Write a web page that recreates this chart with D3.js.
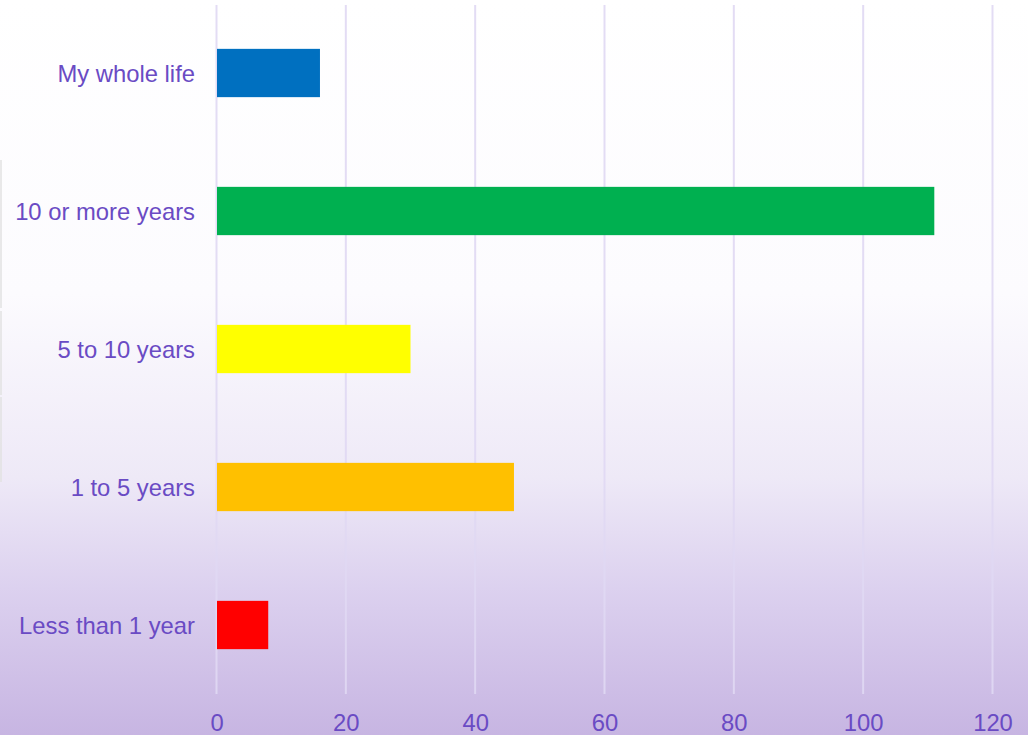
<!DOCTYPE html>
<meta charset="utf-8">
<style>
  body { margin: 0; }
  svg { display: block; font-family: "Liberation Sans", Arial, sans-serif; }
</style>
<svg width="1028" height="735"></svg>
<script src="https://d3js.org/d3.v7.min.js"></script>
<script>

var categories = ["My whole life", "10 or more years", "5 to 10 years", "1 to 5 years", "Less than 1 year"];
var values = [16, 111, 30, 46, 8];
var barColors = ["#0070c0", "#00b050", "#ffff00", "#ffc000", "#ff0000"];
var ticks = [0, 20, 40, 60, 80, 100, 120];

var svg = d3.select("svg"),
    width = +svg.attr("width"),
    height = +svg.attr("height");

var defs = svg.append("defs");
var grad = defs.append("linearGradient")
    .attr("id", "bg")
    .attr("x1", 0).attr("y1", 0).attr("x2", 0).attr("y2", 1);
grad.append("stop").attr("offset", "0%").attr("stop-color", "#ffffff");
grad.append("stop").attr("offset", "40%").attr("stop-color", "#fcfbfe");
grad.append("stop").attr("offset", "65%").attr("stop-color", "#eee9f7");
grad.append("stop").attr("offset", "80%").attr("stop-color", "#dcd1ef");
grad.append("stop").attr("offset", "100%").attr("stop-color", "#c7b5e2");

svg.append("rect")
    .attr("width", width)
    .attr("height", height)
    .attr("fill", "url(#bg)");

// faint leftover box edges on the left side
var edges = [[160, 308], [311, 395], [397, 482]];
svg.selectAll(".edge")
  .data(edges)
  .enter().append("line")
    .attr("x1", 1).attr("x2", 1)
    .attr("y1", function(d) { return d[0]; })
    .attr("y2", function(d) { return d[1]; })
    .attr("stroke", "#e2e2e2")
    .attr("stroke-width", 1.5);

var x = d3.scaleLinear()
    .domain([0, 120])
    .range([216.5, 992.5]);

var y = d3.scaleBand()
    .domain(categories)
    .range([4, 694])
    .paddingInner(0.65)
    .paddingOuter(0.325);

// gridlines
svg.selectAll(".grid")
  .data(ticks)
  .enter().append("line")
    .attr("class", "grid")
    .attr("x1", function(d) { return x(d); })
    .attr("x2", function(d) { return x(d); })
    .attr("y1", 5)
    .attr("y2", 694)
    .attr("stroke", "#e0d8f3")
    .attr("stroke-opacity", 0.9)
    .attr("stroke-width", 2);

// bars
svg.selectAll(".bar")
  .data(values)
  .enter().append("rect")
    .attr("class", "bar")
    .attr("x", x(0) + 0.5)
    .attr("y", function(d, i) { return y(categories[i]); })
    .attr("width", function(d) { return x(d) - x(0) - 0.5; })
    .attr("height", y.bandwidth())
    .attr("fill", function(d, i) { return barColors[i]; });

// category labels
var yAxis = d3.axisLeft(y).tickSize(0).tickPadding(0);
var ya = svg.append("g")
    .attr("transform", "translate(195,1)")
    .call(yAxis);
ya.select(".domain").remove();
ya.selectAll("text")
    .attr("fill", "#6a4bc4")
    .attr("font-size", 23.8)
    .attr("font-family", "Liberation Sans, Arial, sans-serif");

// value axis
var xAxis = d3.axisBottom(x).tickValues(ticks).tickSize(0).tickPadding(0);
var xa = svg.append("g")
    .attr("transform", "translate(0,714)")
    .call(xAxis);
xa.select(".domain").remove();
xa.selectAll("text")
    .attr("fill", "#6a4bc4")
    .attr("font-size", 23.8)
    .attr("font-family", "Liberation Sans, Arial, sans-serif");

</script>
